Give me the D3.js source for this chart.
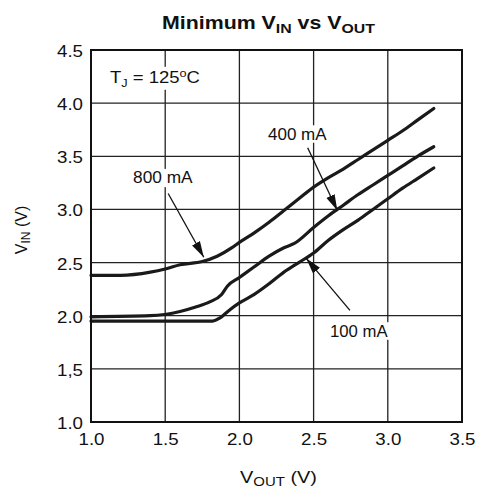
<!DOCTYPE html>
<html><head><meta charset="utf-8">
<script src="https://cdn.jsdelivr.net/npm/d3@7"></script>
<style>body{margin:0;background:#fff}svg{font-family:"Liberation Sans",Arial,sans-serif}</style>
</head><body><svg id="c" width="478" height="493"></svg>
<script>
const xTicks = [1.0,1.5,2.0,2.5,3.0,3.5];
const xTickLabels = ["1.0","1.5","2.0","2.5","3.0","3.5"];
const yTicks = [1.0,1.5,2.0,2.5,3.0,3.5,4.0,4.5];
const yTickLabels = ["1.0","1,5","2.0","2.5","3.0","3.5","4.0","4.5"];
const seriesNames = ["800 mA","400 mA","100 mA"];
const vout800 = [1.0,1.2,1.4,1.5,1.6,1.75,1.85,1.95,2.0,2.1,2.2,2.3,2.4,2.5,2.6,2.7,2.8,2.9,3.0,3.1,3.2,3.31];
const vin800  = [2.38,2.38,2.41,2.44,2.48,2.51,2.56,2.64,2.69,2.78,2.88,2.99,3.1,3.21,3.3,3.38,3.47,3.56,3.65,3.74,3.84,3.95];
const vout400 = [1.0,1.4,1.6,1.7,1.8,1.88,1.92,2.0,2.1,2.2,2.3,2.37,2.5,2.6,2.7,2.8,2.9,3.0,3.1,3.2,3.31];
const vin400  = [1.99,2.0,2.04,2.08,2.13,2.2,2.28,2.36,2.46,2.56,2.64,2.68,2.83,2.94,3.04,3.14,3.23,3.32,3.41,3.50,3.59];
const vout100 = [1.0,1.4,1.82,1.87,1.93,2.0,2.1,2.2,2.3,2.4,2.5,2.6,2.7,2.8,2.9,3.0,3.1,3.2,3.31];
const vin100  = [1.95,1.95,1.95,1.98,2.05,2.12,2.2,2.3,2.41,2.5,2.59,2.71,2.81,2.9,3.0,3.1,3.2,3.29,3.39];

const svg = d3.select("#c");
const L=91, R=462, T=50, B=422;
const x = d3.scaleLinear().domain([1.0,3.5]).range([L,R]);
const y = d3.scaleLinear().domain([1.0,4.5]).range([B,T]);

function fit(t, x0, x1){
  const bb = t.node().getBBox();
  const s = (x1-x0)/bb.width;
  t.attr("transform", `translate(${x0 - s*bb.x},0) scale(${s},1)`);
}
function whiteBg(t){
  const n=t.node(); const bb=n.getBBox();
  const tr = t.attr("transform")||"";
  svg.insert("rect",()=>n).attr("x",bb.x-2).attr("y",bb.y).attr("width",bb.width+4).attr("height",bb.height)
    .attr("fill","#fff").attr("transform",tr);
}

// grid
const g = svg.append("g");
g.selectAll(".vx").data(xTicks.slice(1,-1)).join("line")
  .attr("x1",d=>x(d)).attr("x2",d=>x(d)).attr("y1",T).attr("y2",B)
  .attr("stroke","#222").attr("stroke-width",1.3);
g.selectAll(".hy").data(yTicks.slice(1,-1)).join("line")
  .attr("y1",d=>y(d)).attr("y2",d=>y(d)).attr("x1",L).attr("x2",R)
  .attr("stroke","#222").attr("stroke-width",1.3);

// axes
const xAxis = d3.axisBottom(x).tickValues(xTicks).tickFormat((d,i)=>xTickLabels[i]).tickSize(0);
const yAxis = d3.axisLeft(y).tickValues(yTicks).tickFormat((d,i)=>yTickLabels[i]).tickSize(0);
const ax = svg.append("g").attr("transform",`translate(0,${B})`).call(xAxis);
const ay = svg.append("g").attr("transform",`translate(${L},0)`).call(yAxis);
[ax,ay].forEach(a=>{a.select(".domain").remove();a.selectAll("text").attr("font-size",16).attr("fill","#111").attr("font-family","Liberation Sans, Arial, sans-serif");});
ax.selectAll("text").attr("y",23).attr("dy",0).attr("transform","scale(1.17,1)");
ay.selectAll("text").attr("x",-8).attr("y",6.5).attr("dy",0).attr("transform","translate(-8,0) scale(1.17,1) translate(8,0)");

// curves
const line = d3.line().x(d=>x(d[0])).y(d=>y(d[1])).curve(d3.curveMonotoneX);
const series = [d3.zip(vout800,vin800), d3.zip(vout400,vin400), d3.zip(vout100,vin100)];
svg.selectAll(".curve").data(series).join("path")
  .attr("d",line).attr("fill","none").attr("stroke","#1a1a1a").attr("stroke-width",3.2)
  .attr("stroke-linejoin","round").attr("stroke-linecap","round");

// annotations
const defs = svg.append("defs");
defs.append("marker").attr("id","ah").attr("viewBox","0 0 16 10").attr("refX",16).attr("refY",5)
  .attr("markerWidth",16).attr("markerHeight",10).attr("markerUnits","userSpaceOnUse").attr("orient","auto")
  .append("path").attr("d","M0,0.5 L16,5 L0,9.5 Z").attr("fill","#111");
function label(txt, x0, x1, cy){
  const t = svg.append("text").attr("x",(x0+x1)/2).attr("y",cy).attr("text-anchor","middle").attr("dominant-baseline","central")
    .attr("font-size",16).attr("fill","#111").text(txt);
  fit(t,x0,x1); whiteBg(t);
}
function arrow(x1,y1,x2,y2){
  svg.append("line").attr("x1",x(x1)).attr("y1",y(y1)).attr("x2",x(x2)).attr("y2",y(y2))
    .attr("stroke","#111").attr("stroke-width",1.3).attr("marker-end","url(#ah)");
}
label(seriesNames[0], 133, 193, 178);
arrow(1.52,3.15,1.76,2.55);
label(seriesNames[1], 268, 327, 134);
arrow(2.46,3.58,2.66,2.99);
label(seriesNames[2], 330, 388, 331);
arrow(2.745,2.05,2.45,2.54);

// border
svg.append("rect").attr("x",L).attr("y",T).attr("width",R-L).attr("height",B-T)
  .attr("fill","none").attr("stroke","#111").attr("stroke-width",2);

// TJ label
const tj = svg.append("text").attr("x",110).attr("y",83).attr("font-size",16).attr("fill","#111");
tj.append("tspan").text("T");
tj.append("tspan").attr("font-size",11).attr("dy",4).text("J");
tj.append("tspan").attr("dy",-4).text(" = 125");
tj.append("tspan").attr("font-size",11).attr("dy",-6).text("o");
tj.append("tspan").attr("dy",6).text("C");
fit(tj,110,200); whiteBg(tj);

// title
const tt = svg.append("text").attr("x",268).attr("y",29).attr("text-anchor","middle").attr("font-size",17.5).attr("font-weight","bold").attr("fill","#111");
tt.append("tspan").text("Minimum V");
tt.append("tspan").attr("font-size",13).attr("dy",4).text("IN");
tt.append("tspan").attr("dy",-4).text(" vs V");
tt.append("tspan").attr("font-size",13).attr("dy",4).text("OUT");
fit(tt,162,375);

// x title
const xt = svg.append("text").attr("x",278).attr("y",483).attr("text-anchor","middle").attr("font-size",16).attr("fill","#111");
xt.append("tspan").text("V");
xt.append("tspan").attr("font-size",12).attr("dy",3).text("OUT");
xt.append("tspan").attr("dy",-3).text(" (V)");
fit(xt,240,317);

// y title
const yt = svg.append("text").attr("transform","translate(27,230) rotate(-90)").attr("text-anchor","middle").attr("font-size",16).attr("fill","#111");
yt.append("tspan").text("V");
yt.append("tspan").attr("font-size",12).attr("dy",3).text("IN");
yt.append("tspan").attr("dy",-3).text(" (V)");
</script></body></html>
